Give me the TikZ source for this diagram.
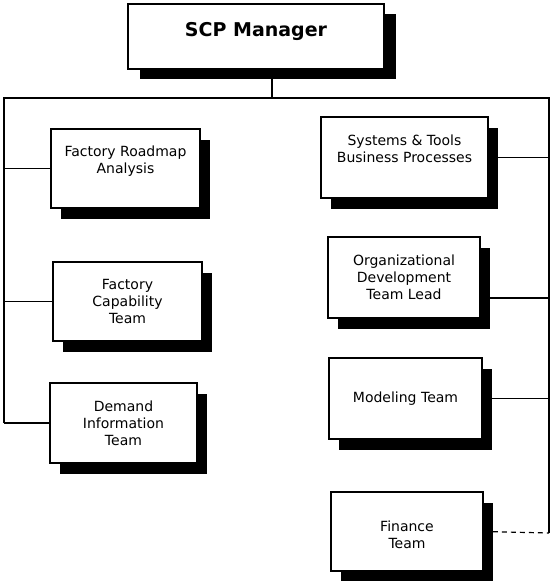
\documentclass[tikz,border=0pt]{standalone}
\usepackage{fontspec}
\setmainfont{DejaVu Sans}
\usetikzlibrary{shadows,backgrounds}
\begin{document}
\begin{tikzpicture}[x=1pt,y=-1pt,
  orgbox/.style={draw, line width=1.8pt, fill=white, inner sep=0pt, align=center,
     font=\fontsize{14}{17}\selectfont},
  shad/.style={drop shadow={shadow xshift=10pt, shadow yshift=-11pt, fill=black, opacity=1}},
  mshad/.style={drop shadow={shadow xshift=12pt, shadow yshift=-10pt, fill=black, opacity=1}},
  link/.style={line width=1.2pt},
  dlink/.style={line width=1.2pt, dash pattern=on 5pt off 4pt}]
\useasboundingbox (0,0) rectangle (553,581);
% bus coordinates
\coordinate (tl) at (4,98);
\coordinate (tr) at (549,98);
\coordinate (lb) at (4,423);
\coordinate (rb) at (549,533);
% boxes
\node[orgbox, mshad, minimum width=256pt, minimum height=65pt,
      font=\bfseries\fontsize{19}{22}\selectfont, text height=14pt, text depth=15pt]
      (mgr) at (256,36.5) {SCP Manager};
\node[orgbox, shad, minimum width=149pt, minimum height=79pt] (fra) at (125.5,168.5)
      {Factory Roadmap\\Analysis\\\mbox{}};
\node[orgbox, shad, minimum width=149pt, minimum height=79pt] (fct) at (127.5,301.5)
      {Factory\\Capability\\Team};
\node[orgbox, shad, minimum width=147pt, minimum height=80pt] (dit) at (123.5,423)
      {Demand\\Information\\Team};
\node[orgbox, shad, minimum width=167pt, minimum height=81pt] (st) at (404.5,157.5)
      {Systems \& Tools\\Business Processes\\\mbox{}};
\node[orgbox, shad, minimum width=152pt, minimum height=81pt] (org) at (404,277.5)
      {Organizational\\Development\\Team Lead};
\node[orgbox, shad, minimum width=153pt, minimum height=81pt] (mod) at (405.5,398.5)
      {Modeling Team};
\node[orgbox, shad, minimum width=152pt, minimum height=79pt] (fin) at (407,531.5)
      {\mbox{}\\Finance\\Team};
% connectors (drawn behind boxes)
\begin{scope}[on background layer]
  \coordinate (mdrop) at ([xshift=16pt]mgr.south);
  \draw[link] (mdrop) -- (mdrop |- tl);
  \draw[link] (lb) -- (tl) -- (tr) -- (rb);
  \draw[link] (fra.west) -- (fra.west -| tl);
  \draw[link] (fct.west) -- (fct.west -| tl);
  \draw[link] (dit.west) -- (lb);
  \draw[link] (st.east) -- (st.east -| tr);
  \draw[link] ([yshift=-20.5pt]org.east) -- ([yshift=-20.5pt]org.east -| tr);
  \draw[link] (mod.east) -- (mod.east -| tr);
  \draw[dlink] (fin.east) -- (rb);
\end{scope}
\end{tikzpicture}
\end{document}
